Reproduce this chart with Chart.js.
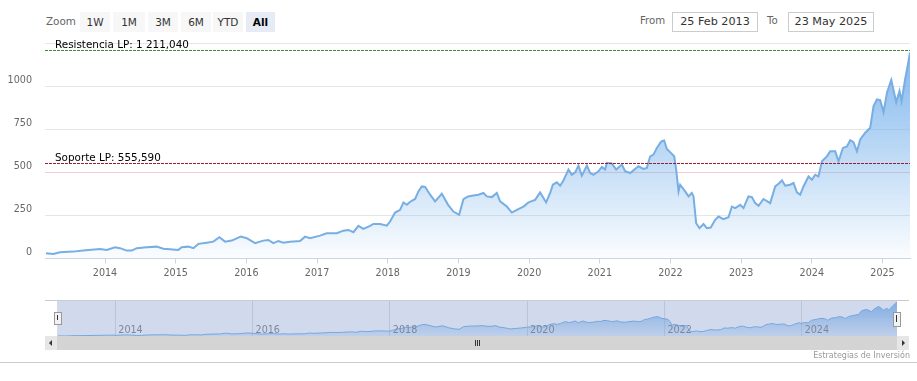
<!DOCTYPE html>
<html><head><meta charset="utf-8">
<script src="https://cdn.jsdelivr.net/npm/chart.js@4.4.1/dist/chart.umd.min.js"></script>
<style>
html,body{margin:0;padding:0;background:#fff;width:917px;height:381px;overflow:hidden;font-family:"DejaVu Sans",Verdana,sans-serif;}
#mainWrap{position:absolute;left:0;top:0;width:917px;height:290px;}
#navWrap{position:absolute;left:57px;top:301px;width:840px;height:35px;}
.t{position:absolute;white-space:nowrap;}
.btn{position:absolute;top:12px;height:20px;line-height:20px;background:#f7f7f7;color:#333;font-size:10.5px;text-align:center;}
.inp{position:absolute;top:12px;height:18px;line-height:18px;border:1px solid #ccc;background:#fff;color:#333;font-size:11.2px;text-align:center;}
</style>
</head><body>
<div class="t" style="left:46px;top:13px;font-size:10.4px;color:#666;line-height:16px;">Zoom</div>
<div class="btn" style="left:80px;width:30px;">1W</div>
<div class="btn" style="left:113px;width:32px;">1M</div>
<div class="btn" style="left:148px;width:30px;">3M</div>
<div class="btn" style="left:181px;width:30px;">6M</div>
<div class="btn" style="left:213px;width:30px;">YTD</div>
<div class="btn" style="left:246px;width:29px;background:#e6ebf5;color:#000;font-weight:bold;">All</div>
<div class="t" style="left:640px;top:13px;font-size:10.2px;color:#666;line-height:16px;">From</div>
<div class="inp" style="left:672px;width:84px;">25 Feb 2013</div>
<div class="t" style="left:767px;top:13px;font-size:10.2px;color:#666;line-height:16px;">To</div>
<div class="inp" style="left:788px;width:84px;">23 May 2025</div>

<div id="mainWrap"><canvas id="main" width="917" height="290"></canvas></div>

<div style="position:absolute;left:45px;top:300px;width:864px;height:1px;background:#ccc;"></div>
<div id="navWrap"><canvas id="nav" width="840" height="35"></canvas></div>
<div style="position:absolute;left:45px;top:336px;width:864px;height:14px;background:#d4d4d4;"></div>
<div style="position:absolute;left:45px;top:336px;width:12px;height:14px;background:#e6e6e6;"></div>
<div style="position:absolute;left:49px;top:340px;width:0;height:0;border-top:3px solid transparent;border-bottom:3px solid transparent;border-right:3px solid #333;"></div>
<div style="position:absolute;left:897px;top:336px;width:12px;height:14px;background:#e6e6e6;"></div>
<div style="position:absolute;left:902px;top:340px;width:0;height:0;border-top:3px solid transparent;border-bottom:3px solid transparent;border-left:3px solid #333;"></div>
<div style="position:absolute;left:475px;top:340px;width:1px;height:6px;background:#333;"></div>
<div style="position:absolute;left:477px;top:340px;width:1px;height:6px;background:#333;"></div>
<div style="position:absolute;left:479px;top:340px;width:1px;height:6px;background:#333;"></div>
<div style="position:absolute;left:54px;top:312px;width:6px;height:11px;background:#f2f2f2;border:1px solid #999;"></div>
<div style="position:absolute;left:57px;top:315px;width:1px;height:5px;background:#333;"></div>
<div style="position:absolute;left:893px;top:312px;width:6px;height:13px;background:#f2f2f2;border:1px solid #999;"></div>
<div style="position:absolute;left:896px;top:315px;width:1px;height:7px;background:#333;"></div>
<div class="t" style="right:7px;top:350px;font-size:8px;color:#999;line-height:12px;">Estrategias de Inversión</div>
<div style="position:absolute;left:0;top:362px;width:917px;height:1px;background:#ccc;"></div>

<script>
const dates = [2013.165,2013.268,2013.363,2013.547,2013.689,2013.929,2014.024,2014.142,2014.212,2014.307,2014.378,2014.449,2014.590,2014.732,2014.825,2014.920,
2015.037,2015.085,2015.179,2015.250,2015.320,2015.439,2015.533,2015.618,2015.698,2015.793,2015.920,2016.005,2016.123,2016.240,2016.311,2016.382,2016.453,2016.523,2016.618,2016.760,2016.830,2016.901,
2017.043,2017.137,2017.279,2017.372,2017.443,2017.514,2017.585,2017.655,2017.750,2017.797,2017.892,2017.987,2018.033,2018.104,2018.175,2018.222,2018.270,2018.318,2018.387,2018.434,2018.482,2018.529,2018.600,2018.670,2018.765,2018.854,2018.929,
2019.010,2019.071,2019.137,2019.190,2019.283,2019.354,2019.402,2019.473,2019.543,2019.590,2019.685,2019.756,2019.826,2019.920,2019.991,2020.085,2020.156,2020.241,2020.298,2020.336,2020.393,2020.439,2020.486,2020.557,2020.605,2020.652,2020.698,2020.746,2020.817,2020.864,2020.911,2020.981,
2021.029,2021.076,2021.100,2021.171,2021.232,2021.312,2021.359,2021.430,2021.547,2021.618,2021.666,2021.713,2021.760,2021.808,2021.854,2021.878,2021.911,2021.949,2022.006,2022.053,2022.081,2022.114,2022.137,2022.208,2022.255,2022.303,2022.326,2022.364,2022.411,2022.467,2022.515,2022.570,2022.633,2022.680,2022.750,2022.821,2022.869,2022.916,2022.987,
2023.033,2023.104,2023.152,2023.199,2023.246,2023.316,2023.411,2023.482,2023.529,2023.577,2023.624,2023.694,2023.741,2023.789,2023.836,2023.882,2023.953,2024.001,2024.048,2024.094,2024.143,2024.213,2024.260,2024.331,2024.378,2024.440,2024.497,2024.543,2024.590,2024.638,2024.685,2024.756,2024.826,2024.873,2024.921,2024.967,
2025.015,2025.063,2025.124,2025.194,2025.241,2025.270,2025.320,2025.360,2025.389];
const prices = [30,26,36,40,46,55,50,65,60,46,46,60,65,69,57,54,
50,65,69,60,85,92,98,124,98,104,127,118,89,104,108,89,102,92,98,102,127,118,
133,147,147,162,166,153,190,172,190,201,200,191,215,267,283,326,312,330,346,390,419,416,371,332,376,312,273,
254,345,361,365,371,381,361,357,381,332,302,267,283,302,326,341,384,326,381,429,443,423,454,517,487,501,540,482,540,497,487,507,
532,517,556,552,517,546,507,497,536,521,527,594,604,643,672,682,686,637,614,594,517,390,429,390,361,381,361,205,176,200,176,180,225,244,229,240,302,293,312,
293,361,357,322,306,346,322,419,435,454,423,429,439,384,371,419,477,458,487,477,565,594,623,623,565,643,652,688,676,623,692,731,760,886,925,921,
851,964,1038,909,974,915,1042,1130,1198];
const yearTicks = [2014,2015,2016,2017,2018,2019,2020,2021,2022,2023,2024,2025];
const navYearTicks = [2014,2016,2018,2020,2022,2024];
const yTicks = [0,250,500,750,1000,1250];
const xMin = 2013.151, xMax = 2025.389;
const resistanceLevel = 1211.04, resistanceLabel = 'Resistencia LP: 1 211,040';
const supportLevel = 555.59, supportLabel = 'Soporte LP: 555,590';

const points = dates.map((d,i)=>({x:d,y:prices[i]}));
const FONT = '"DejaVu Sans", Verdana, sans-serif';

const plotLines = {
  id:'plotLines',
  afterDatasetsDraw(chart){
    const {ctx, chartArea:a, scales:{y}} = chart;
    [[resistanceLevel,'#3f8a35',resistanceLabel],[supportLevel,'#a01c2c',supportLabel]].forEach(([v,c,t])=>{
      const py = Math.round(y.getPixelForValue(v))+0.5;
      ctx.save();
      ctx.strokeStyle=c; ctx.lineWidth=1; ctx.setLineDash([3,1]);
      ctx.beginPath(); ctx.moveTo(a.left,py); ctx.lineTo(a.right,py); ctx.stroke();
      ctx.setLineDash([]);
      ctx.fillStyle='#000'; ctx.font='10.4px '+FONT; ctx.textBaseline='alphabetic'; ctx.textAlign='left';
      ctx.fillText(t, a.left+10, py-3);
      ctx.restore();
    });
  }
};

new Chart(document.getElementById('main'), {
  type:'line',
  data:{datasets:[{data:points, borderColor:'#77aee3', borderWidth:2, pointRadius:0, tension:0, fill:'origin',
    backgroundColor:(c)=>{const ch=c.chart, a=ch.chartArea; if(!a) return 'rgba(124,181,236,0.3)';
      const g=ch.ctx.createLinearGradient(0,a.top,0,a.bottom); g.addColorStop(0,'rgba(124,181,236,1)'); g.addColorStop(1,'rgba(124,181,236,0.03)'); return g;}}]},
  options:{responsive:false, animation:false, events:[],
    layout:{padding:{left:0,right:7,top:43.5,bottom:0}},
    plugins:{legend:{display:false}, tooltip:{enabled:false}},
    scales:{
      x:{type:'linear', min:xMin, max:xMax,
        afterBuildTicks:(s)=>{s.ticks=yearTicks.map(v=>({value:v}));},
        afterFit:(s)=>{s.height=31.5;},
        ticks:{autoSkip:false, maxRotation:0, padding:4, color:'#666', font:{family:FONT,size:9.6}, callback:(v)=>String(v)},
        grid:{drawOnChartArea:false, drawTicks:true, tickLength:5, color:'#ccd6eb'},
        border:{color:'#ccd6eb'}},
      y:{type:'linear', min:0, max:1250,
        afterBuildTicks:(s)=>{s.ticks=yTicks.map(v=>({value:v}));},
        afterFit:(s)=>{s.width=45;},
        ticks:{padding:13, labelOffset:-6, color:'#666', font:{family:FONT,size:9.6}, callback:(v)=> v===1250?'':String(v)},
        grid:{drawTicks:false, color:(c)=> c.tick && c.tick.value===500 ? '#f3c9d2' : '#e6e6e6'},
        border:{display:false}}
    }},
  plugins:[plotLines]
});

const navOverlay = {
  id:'navOverlay',
  afterDatasetsDraw(chart){
    const {ctx, chartArea:a, scales:{x}} = chart;
    ctx.save();
    ctx.fillStyle='#888'; ctx.font='9.6px '+FONT; ctx.textAlign='left'; ctx.textBaseline='middle';
    navYearTicks.forEach(v=>{ ctx.fillText(String(v), x.getPixelForValue(v)+3, a.bottom-6); });
    ctx.fillStyle='rgba(102,133,194,0.3)'; ctx.fillRect(a.left,a.top,a.right-a.left,a.bottom-a.top);
    ctx.restore();
  }
};
new Chart(document.getElementById('nav'), {
  type:'line',
  data:{datasets:[{data:points, borderColor:'#7cb5ec', borderWidth:1, pointRadius:0, tension:0, fill:'start',
    backgroundColor:(c)=>{const ch=c.chart, a=ch.chartArea; if(!a) return 'rgba(124,181,236,0.4)';
      const g=ch.ctx.createLinearGradient(0,a.top,0,a.bottom); g.addColorStop(0,'rgba(124,181,236,0.9)'); g.addColorStop(1,'rgba(124,181,236,0.2)'); return g;}}]},
  options:{responsive:false, animation:false, events:[],
    layout:{padding:0},
    plugins:{legend:{display:false}, tooltip:{enabled:false}},
    scales:{
      x:{type:'linear', display:true, min:xMin, max:xMax,
        afterBuildTicks:(s)=>{s.ticks=navYearTicks.map(v=>({value:v}));},
        afterFit:(s)=>{s.height=0;},
        ticks:{display:false},
        grid:{drawOnChartArea:true, drawTicks:false, color:'#e0e0e0'},
        border:{display:false}},
      y:{type:'linear', display:false, min:Math.min(...prices), max:Math.max(...prices)*1.02}
    }},
  plugins:[navOverlay]
});
</script>
</body></html>
